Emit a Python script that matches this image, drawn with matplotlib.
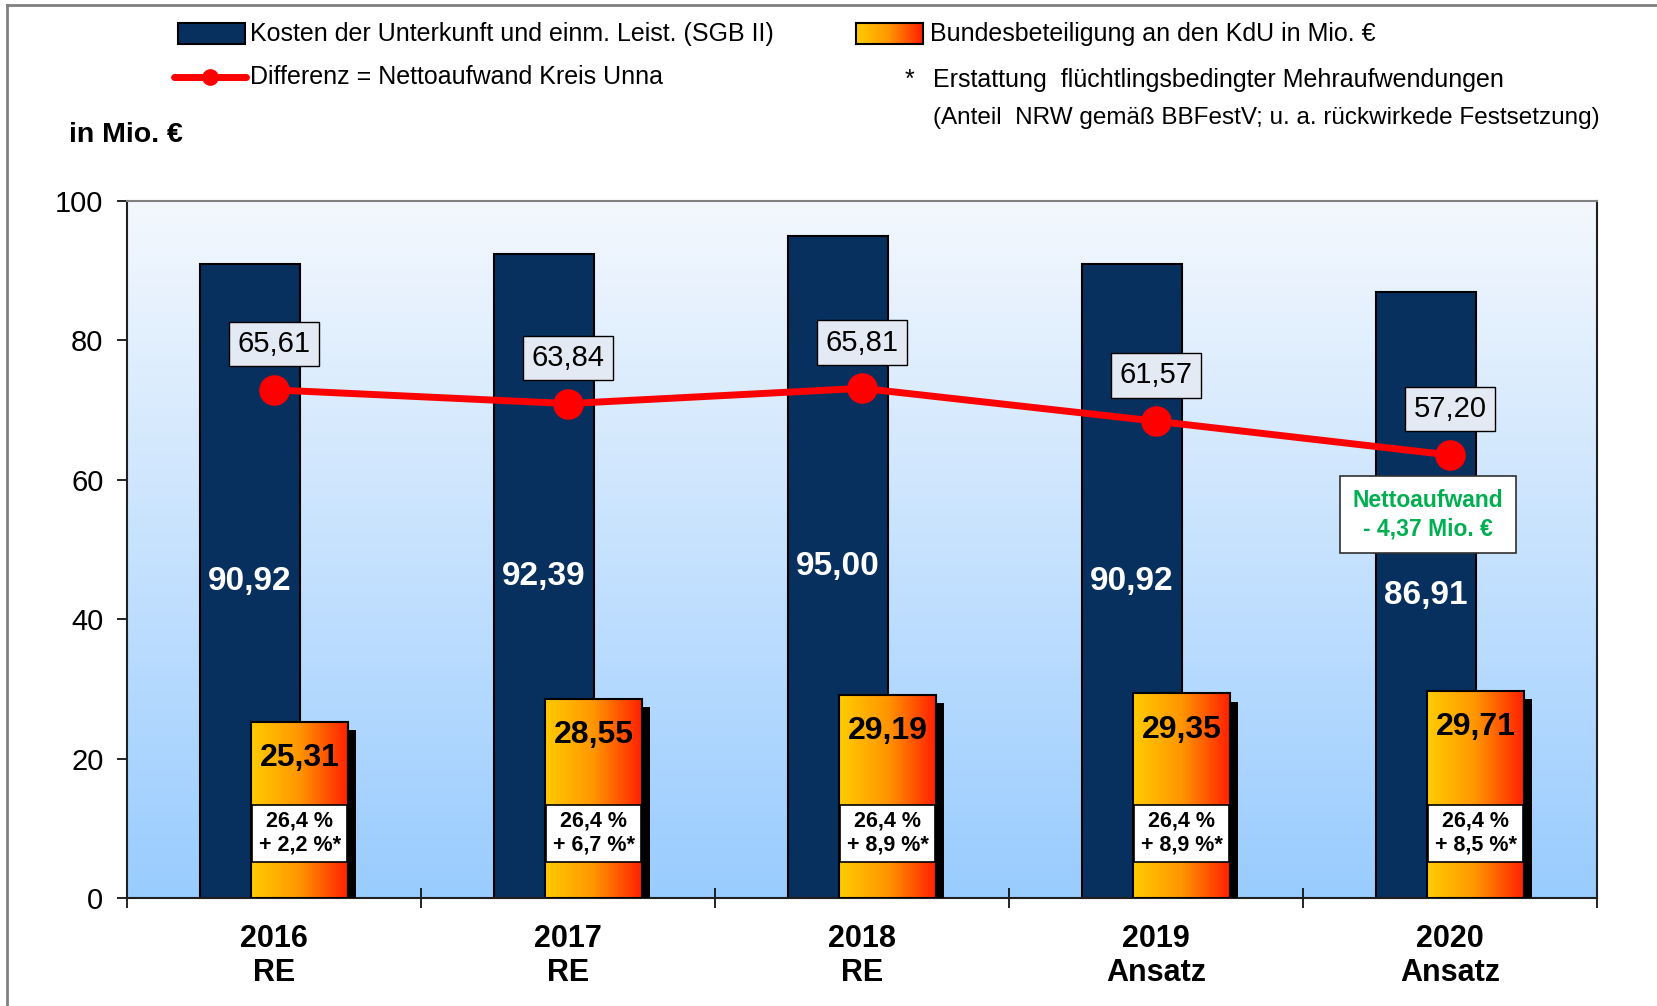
import numpy as np
import matplotlib
matplotlib.use('Agg')
import matplotlib.pyplot as plt
import matplotlib.patheffects as pe
from matplotlib.colors import LinearSegmentedColormap, to_rgb
from matplotlib.lines import Line2D
from matplotlib.patches import Rectangle

# data
years = ['2016\nRE', '2017\nRE', '2018\nRE', '2019\nAnsatz', '2020\nAnsatz']
kosten = [90.92, 92.39, 95.00, 90.92, 86.91]
bund = [25.31, 28.55, 29.19, 29.35, 29.71]
netto = [65.61, 63.84, 65.81, 61.57, 57.20]
quote = ['26,4 %'] * 5
zusatz = ['2,2', '6,7', '8,9', '8,9', '8,5']

arial = ['Liberation Sans', 'DejaVu Sans']
plt.rcParams['font.family'] = arial

def fmt(v):
    return f"{v:.2f}".replace('.', ',')

W, H = 1657, 1006
fig = plt.figure(figsize=(W / 100, H / 100), dpi=100)
fig.patch.set_facecolor('white')

ax = fig.add_axes([127 / W, 1 - 898 / H, (1597 - 127) / W, (898 - 201) / H])

# background gradient
c_top = np.array(to_rgb('#f4f8fd'))
c_bot = np.array(to_rgb('#99ccff'))
t = np.linspace(0, 1, 256)[:, None]
grad = (c_top * (1 - t) + c_bot * t)[:, None, :]
ax.imshow(grad, aspect='auto', extent=[0, 1, 0, 1], transform=ax.transAxes, zorder=0)

x = np.arange(len(years))
dark_off, dark_w = -0.081, 0.34
or_off, or_w = 0.087, 0.33

bars_k = ax.bar(x + dark_off, kosten, width=dark_w, color='#08305f',
                edgecolor='black', linewidth=1.5, zorder=2)

bars_b = ax.bar(x + or_off, bund, width=or_w, color='#ffcc00', edgecolor='none',
                zorder=3, path_effects=[pe.SimplePatchShadow(offset=(6, -6),
                                                              shadow_rgbFace='black', alpha=1.0),
                                        pe.Normal()])
cmap = LinearSegmentedColormap.from_list('yr', ['#ffcc00', '#ff9500', '#ff1e00'])
hgrad = np.linspace(0, 1, 256)[None, :]
for b in bars_b:
    im = ax.imshow(hgrad, cmap=cmap, aspect='auto', zorder=3.1,
                   extent=[b.get_x(), b.get_x() + b.get_width(), 0, b.get_height()])
    im.set_clip_path(b)
ax.bar(x + or_off, bund, width=or_w, facecolor='none', edgecolor='black',
       linewidth=1.5, zorder=3.2)

# labels inside bars
for i in range(len(years)):
    ax.text(x[i] + dark_off, kosten[i] / 2, fmt(kosten[i]), color='white',
            fontsize=24, fontweight='bold', ha='center', va='center', zorder=5)
    ax.annotate(fmt(bund[i]), (x[i] + or_off, bund[i]), xytext=(0, -26),
                textcoords='offset points', ha='center', va='center',
                fontsize=23, fontweight='bold', color='black', zorder=5)
    ax.text(x[i] + or_off, 9.3, f"{quote[i]}\n+ {zusatz[i]} %*", ha='center', va='center',
            fontsize=15.5, fontweight='bold', linespacing=1.15, zorder=5,
            bbox=dict(boxstyle='square,pad=0.3', facecolor='white', edgecolor='black', linewidth=1.2))

ax.set_xlim(-0.5, len(years) - 0.5)
ax.set_ylim(0, 100)
ax.set_yticks(np.arange(0, 101, 20))
ax.set_xticks(x)
ax.set_xticklabels(years, fontsize=22, fontweight='bold', linespacing=1.15)
ax.set_xticks(np.arange(-0.5, len(years), 1), minor=True)
ax.tick_params(axis='x', which='major', length=0, pad=19)
ax.tick_params(axis='x', which='minor', length=14, direction='inout', width=1.2)
ax.tick_params(axis='y', labelsize=21, length=7, width=1.2, pad=10)
for s in ['left', 'right', 'bottom']:
    ax.spines[s].set_color('#202020')
    ax.spines[s].set_linewidth(1.5)
ax.spines['top'].set_color('#808080')
ax.spines['top'].set_linewidth(1.5)

# line on its own scale
ax2 = ax.twinx()
ax2.set_ylim(0, 90)
ax2.set_xlim(-0.5, len(years) - 0.5)
ax2.axis('off')
ax2.plot(x, netto, color='#ff0000', linewidth=5, marker='o', markersize=21,
         solid_capstyle='round', zorder=4)
for i in range(len(years)):
    ax2.annotate(fmt(netto[i]), (x[i], netto[i]), xytext=(0, 33), textcoords='offset points',
                 ha='center', va='center', fontsize=21, color='black',
                 bbox=dict(boxstyle='square,pad=0.28', facecolor='#e4eaf3',
                           edgecolor='black', linewidth=1))
ax2.annotate('Nettoaufwand\n- 4,37 Mio. €', (x[-1], netto[-1]), xytext=(-16, -43),
             textcoords='offset points', ha='center', va='center', fontsize=16.5,
             fontweight='bold', color='#00b050', linespacing=1.3,
             bbox=dict(boxstyle='square,pad=0.55', facecolor='white',
                       edgecolor='#303030', linewidth=1.2))

# legend drawn by hand
def fx(px):
    return px / W

def fy(py):
    return 1 - py / H

fs_leg = 18
fig.add_artist(Rectangle((fx(178), fy(44)), fx(245) - fx(178), fy(23) - fy(44),
                         facecolor='#08305f', edgecolor='black', linewidth=1.5))
fig.text(fx(250), fy(34), 'Kosten der Unterkunft und einm. Leist. (SGB II)', fontsize=fs_leg,
         va='center', ha='left')
fig.add_artist(Line2D([fx(174), fx(246)], [fy(77), fy(77)], color='#ff0000', linewidth=5,
                      solid_capstyle='round'))
fig.add_artist(Line2D([fx(210)], [fy(77)], color='#ff0000', marker='o', markersize=11))
fig.text(fx(250), fy(77), 'Differenz = Nettoaufwand Kreis Unna', fontsize=fs_leg,
         va='center', ha='left')

lg = np.linspace(0, 1, 128)[None, :]
lax = fig.add_axes([fx(856), fy(44), fx(923) - fx(856), fy(23) - fy(44)])
lax.imshow(lg, cmap=cmap, aspect='auto')
lax.set_xticks([])
lax.set_yticks([])
for s in lax.spines.values():
    s.set_linewidth(1.5)
fig.text(fx(930), fy(34), 'Bundesbeteiligung an den KdU in Mio. €', fontsize=fs_leg,
         va='center', ha='left')
fig.text(fx(909), fy(80), '*', fontsize=fs_leg, va='center', ha='center')
fig.text(fx(933), fy(80), 'Erstattung  flüchtlingsbedingter Mehraufwendungen', fontsize=fs_leg,
         va='center', ha='left')
fig.text(fx(933), fy(118), '(Anteil  NRW gemäß BBFestV; u. a. rückwirkede Festsetzung)',
         fontsize=fs_leg - 0.5, va='center', ha='left')
fig.text(fx(69), fy(135), 'in Mio. €', fontsize=20.5, fontweight='bold', va='center', ha='left')

# outer frame
fig.add_artist(Line2D([fx(7), 1], [fy(5), fy(5)], color='#808080', linewidth=2))
fig.add_artist(Line2D([fx(7), fx(7)], [0, fy(5)], color='#808080', linewidth=2))

fig.savefig('out.png', dpi=100)
